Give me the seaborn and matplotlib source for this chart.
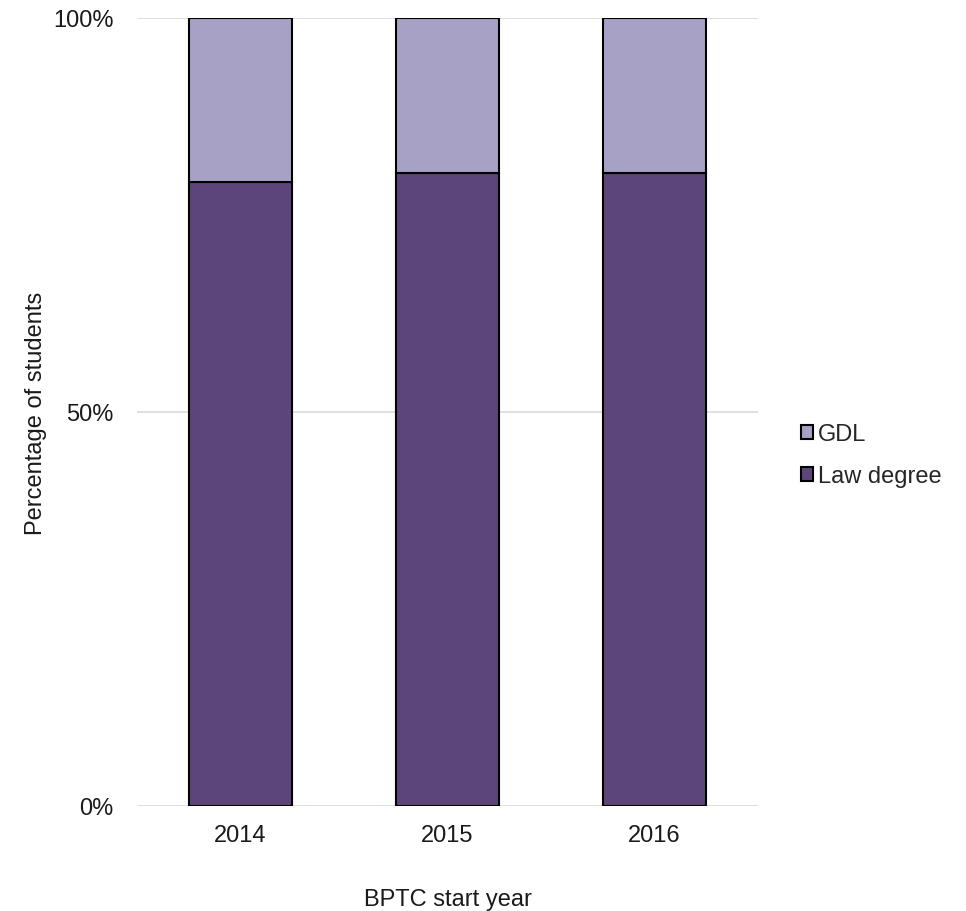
import matplotlib
matplotlib.use("Agg")
import matplotlib.pyplot as plt
import seaborn as sns
import pandas as pd
from matplotlib.patches import Patch

years = ["2014", "2015", "2016"]
law_degree = [79.2, 80.3, 80.3]
gdl = [20.8, 19.7, 19.7]
series_names = ["GDL", "Law degree"]
yticks = [0, 50, 100]
ytick_labels = ["0%", "50%", "100%"]

sns.set_theme(style="white")
plt.rcParams['font.family'] = ['Liberation Sans', 'DejaVu Sans']

df = pd.DataFrame({"year": years, "law": law_degree, "gdl": gdl})

fig = plt.figure(figsize=(9.66, 9.12), dpi=100)
ax = fig.add_axes([137/966, 1-807/912, 621/966, 788/912])

dark = "#5C4579"
light = "#A6A1C5"

sns.barplot(data=df, x="year", y="law", color=dark, saturation=1, width=0.5,
            edgecolor="black", linewidth=1.5, ax=ax, zorder=3)
sns.barplot(data=df, x="year", y="gdl", color=light, saturation=1, width=0.5,
            edgecolor="black", linewidth=1.5, ax=ax, zorder=3, bottom=df["law"].values)

ax.set_ylim(0, 100)
ax.set_xlim(-0.5, 2.5)
ax.set_yticks(yticks)
ax.set_yticklabels(ytick_labels)
ax.yaxis.grid(True, color="#D9D9D9", linewidth=1.2, zorder=0)
ax.set_axisbelow(True)
for s in ax.spines.values():
    s.set_visible(False)
ax.tick_params(axis="both", length=0, labelsize=17, colors="#1a1a1a")
ax.tick_params(axis="y", pad=17)
ax.tick_params(axis="x", pad=13)
ax.set_xlabel("BPTC start year", fontsize=17, labelpad=30, color="#1a1a1a")
ax.set_ylabel("Percentage of students", fontsize=17, labelpad=4, color="#1a1a1a")

handles = [Patch(facecolor=light, edgecolor="black", linewidth=1.5),
           Patch(facecolor=dark, edgecolor="black", linewidth=1.5)]
ax.legend(handles, series_names, loc="center left", bbox_to_anchor=(1.035, 0.445),
          frameon=False, fontsize=17, handlelength=0.5, handleheight=0.5,
          handletextpad=0.2, labelspacing=0.85)

fig.savefig("out.png", dpi=100)
